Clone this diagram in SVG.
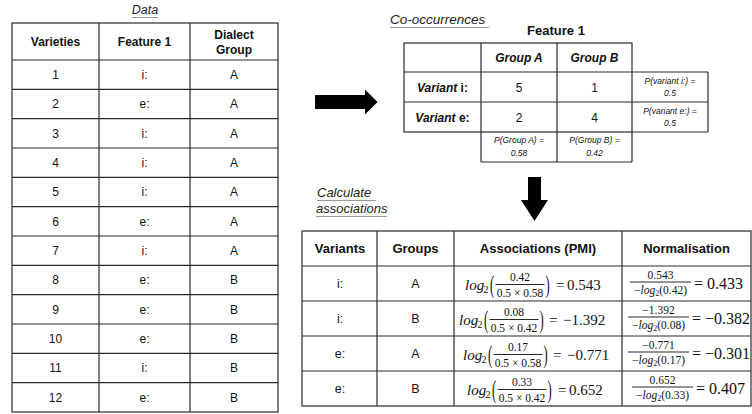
<svg xmlns="http://www.w3.org/2000/svg" width="752" height="414" viewBox="0 0 752 414">
<style>
text{font-family:"Liberation Sans",Arial,sans-serif;fill:#111}
.t{font-size:12px;text-anchor:middle}
.h{font-size:12px;font-weight:bold;text-anchor:middle}
.hb{font-size:13px;font-weight:bold;text-anchor:middle}
.b{font-size:12.5px;text-anchor:middle}
.ti{font-size:13px;font-style:italic;fill:#222}
.p{font-size:8.5px;font-style:italic;text-anchor:middle}
.ul{stroke:#999;stroke-width:1}
.g line,.g rect{stroke:#2a2a2a;stroke-width:1.2;fill:none}
.m{font-family:"Liberation Serif","Times New Roman",serif;font-size:15px}
.mi{font-family:"Liberation Serif","Times New Roman",serif;font-size:15px;font-style:italic}
.ms{font-family:"Liberation Serif","Times New Roman",serif;font-size:10px}
.pa{font-family:"Liberation Serif","Times New Roman",serif;font-size:14px}
.f{font-family:"Liberation Serif","Times New Roman",serif;font-size:11.5px;text-anchor:middle}
.fi{font-style:italic}
.fs{font-size:8px}
.n{font-family:"Liberation Serif","Times New Roman",serif;font-size:16px}
.bar{stroke:#111;stroke-width:0.8}
</style>

<g id="data-title">
<text class="ti" x="145" y="14" text-anchor="middle" style="font-size:12.5px">Data</text>
<line class="ul" x1="132" y1="17.5" x2="158" y2="17.5"/>
</g>

<g id="data-table" class="g">
<rect x="12" y="23" width="266" height="389"/>
<line x1="99" y1="23" x2="99" y2="412"/>
<line x1="190" y1="23" x2="190" y2="412"/>
<line x1="12" y1="60" x2="278" y2="60"/>
<line x1="12" y1="89.33" x2="278" y2="89.33"/>
<line x1="12" y1="118.67" x2="278" y2="118.67"/>
<line x1="12" y1="148" x2="278" y2="148"/>
<line x1="12" y1="177.33" x2="278" y2="177.33"/>
<line x1="12" y1="206.67" x2="278" y2="206.67"/>
<line x1="12" y1="236" x2="278" y2="236"/>
<line x1="12" y1="265.33" x2="278" y2="265.33"/>
<line x1="12" y1="294.67" x2="278" y2="294.67"/>
<line x1="12" y1="324" x2="278" y2="324"/>
<line x1="12" y1="353.33" x2="278" y2="353.33"/>
<line x1="12" y1="382.67" x2="278" y2="382.67"/>
<text class="h" x="55.5" y="46">Varieties</text>
<text class="h" x="144.5" y="46">Feature 1</text>
<text class="h" x="234" y="39">Dialect</text>
<text class="h" x="234" y="54">Group</text>
<g>
<text class="t" x="55.5" y="79">1</text><text class="t" x="144.5" y="79">i:</text><text class="t" x="234" y="79">A</text>
<text class="t" x="55.5" y="108.3">2</text><text class="t" x="144.5" y="108.3">e:</text><text class="t" x="234" y="108.3">A</text>
<text class="t" x="55.5" y="137.6">3</text><text class="t" x="144.5" y="137.6">i:</text><text class="t" x="234" y="137.6">A</text>
<text class="t" x="55.5" y="167">4</text><text class="t" x="144.5" y="167">i:</text><text class="t" x="234" y="167">A</text>
<text class="t" x="55.5" y="196.3">5</text><text class="t" x="144.5" y="196.3">i:</text><text class="t" x="234" y="196.3">A</text>
<text class="t" x="55.5" y="225.6">6</text><text class="t" x="144.5" y="225.6">e:</text><text class="t" x="234" y="225.6">A</text>
<text class="t" x="55.5" y="255">7</text><text class="t" x="144.5" y="255">i:</text><text class="t" x="234" y="255">A</text>
<text class="t" x="55.5" y="284.3">8</text><text class="t" x="144.5" y="284.3">e:</text><text class="t" x="234" y="284.3">B</text>
<text class="t" x="55.5" y="313.6">9</text><text class="t" x="144.5" y="313.6">e:</text><text class="t" x="234" y="313.6">B</text>
<text class="t" x="55.5" y="343">10</text><text class="t" x="144.5" y="343">e:</text><text class="t" x="234" y="343">B</text>
<text class="t" x="55.5" y="372.3">11</text><text class="t" x="144.5" y="372.3">i:</text><text class="t" x="234" y="372.3">B</text>
<text class="t" x="55.5" y="401.6">12</text><text class="t" x="144.5" y="401.6">e:</text><text class="t" x="234" y="401.6">B</text>
</g>
</g>

<g id="cooc-title">
<text class="ti" x="390" y="24" style="font-size:13.5px">Co-occurrences</text>
<line class="ul" x1="390" y1="27.5" x2="489" y2="27.5"/>
<text class="hb" x="556" y="35">Feature 1</text>
</g>

<g id="cooc-table" class="g">
<rect x="404" y="43" width="228" height="89"/>
<line x1="632" y1="72" x2="708" y2="72"/>
<line x1="708" y1="72" x2="708" y2="132"/>
<line x1="632" y1="132" x2="708" y2="132"/>
<line x1="404" y1="72" x2="632" y2="72"/>
<line x1="404" y1="102" x2="708" y2="102"/>
<line x1="481" y1="43" x2="481" y2="162"/>
<line x1="557" y1="43" x2="557" y2="162"/>
<line x1="632" y1="132" x2="632" y2="162"/>
<line x1="481" y1="162" x2="632" y2="162"/>
<text class="h" x="519" y="62" font-style="italic">Group A</text>
<text class="h" x="594.5" y="62" font-style="italic">Group B</text>
<text class="h" x="442.5" y="91.5"><tspan font-style="italic">Variant</tspan> i:</text>
<text class="h" x="442.5" y="121.5"><tspan font-style="italic">Variant</tspan> e:</text>
<text class="t" x="519" y="91.5">5</text>
<text class="t" x="594.5" y="91.5">1</text>
<text class="t" x="519" y="121.5">2</text>
<text class="t" x="594.5" y="121.5">4</text>
<text class="p" x="670" y="84">P(variant i:) =</text>
<text class="p" x="670" y="96">0.5</text>
<text class="p" x="670" y="114">P(variant e:) =</text>
<text class="p" x="670" y="126">0.5</text>
<text class="p" x="519" y="143">P(Group A) =</text>
<text class="p" x="519" y="156">0.58</text>
<text class="p" x="594.5" y="143">P(Group B) =</text>
<text class="p" x="594.5" y="156">0.42</text>
</g>

<g id="assoc-title">
<text class="ti" x="317" y="197">Calculate</text>
<line class="ul" x1="317" y1="200.5" x2="376" y2="200.5"/>
<text class="ti" x="316" y="213">associations</text>
<line class="ul" x1="316" y1="216.5" x2="387" y2="216.5"/>
</g>

<g id="assoc-table" class="g">
<rect x="302" y="231" width="449" height="175"/>
<line x1="377" y1="231" x2="377" y2="406"/>
<line x1="454" y1="231" x2="454" y2="406"/>
<line x1="622" y1="231" x2="622" y2="406"/>
<line x1="302" y1="266" x2="751" y2="266"/>
<line x1="302" y1="301" x2="751" y2="301"/>
<line x1="302" y1="336" x2="751" y2="336"/>
<line x1="302" y1="371" x2="751" y2="371"/>
<text class="hb" x="340" y="253">Variants</text>
<text class="hb" x="415.5" y="253">Groups</text>
<text class="hb" x="538" y="253">Associations (PMI)</text>
<text class="hb" x="686.5" y="253">Normalisation</text>
<text class="b" x="340" y="288">i:</text><text class="b" x="415.5" y="288">A</text>
<text class="b" x="340" y="323">i:</text><text class="b" x="415.5" y="323">B</text>
<text class="b" x="340" y="358">e:</text><text class="b" x="415.5" y="358">A</text>
<text class="b" x="340" y="393">e:</text><text class="b" x="415.5" y="393">B</text>

<!-- PMI row 1 -->
<g transform="translate(0,283.5)">
<text class="mi" x="465" y="6">log</text><text class="ms" x="483.5" y="9">2</text>
<text class="pa" transform="translate(490,9.5) scale(0.9,1.85)">(</text>
<text class="f" x="520" y="-3">0.42</text>
<line class="bar" x1="495.5" y1="1" x2="544.5" y2="1"/>
<text class="f" x="520" y="13">0.5 × 0.58</text>
<text class="pa" transform="translate(545.5,9.5) scale(0.9,1.85)">)</text>
<text class="m" x="556" y="6">=</text><text class="m" x="567" y="6">0.543</text>
</g>
<!-- PMI row 2 -->
<g transform="translate(0,318.5)">
<text class="mi" x="459" y="6">log</text><text class="ms" x="477.5" y="9">2</text>
<text class="pa" transform="translate(484,9.5) scale(0.9,1.85)">(</text>
<text class="f" x="514" y="-3">0.08</text>
<line class="bar" x1="489.5" y1="1" x2="538.5" y2="1"/>
<text class="f" x="514" y="13">0.5 × 0.42</text>
<text class="pa" transform="translate(539.5,9.5) scale(0.9,1.85)">)</text>
<text class="m" x="549" y="6">=</text><text class="m" x="563" y="6">−1.392</text>
</g>
<!-- PMI row 3 -->
<g transform="translate(0,353.5)">
<text class="mi" x="463" y="6">log</text><text class="ms" x="481.5" y="9">2</text>
<text class="pa" transform="translate(488,9.5) scale(0.9,1.85)">(</text>
<text class="f" x="518" y="-3">0.17</text>
<line class="bar" x1="493.5" y1="1" x2="542.5" y2="1"/>
<text class="f" x="518" y="13">0.5 × 0.58</text>
<text class="pa" transform="translate(543.5,9.5) scale(0.9,1.85)">)</text>
<text class="m" x="553" y="6">=</text><text class="m" x="567" y="6">−0.771</text>
</g>
<!-- PMI row 4 -->
<g transform="translate(0,388.5)">
<text class="mi" x="467" y="6">log</text><text class="ms" x="485.5" y="9">2</text>
<text class="pa" transform="translate(492,9.5) scale(0.9,1.85)">(</text>
<text class="f" x="522" y="-3">0.33</text>
<line class="bar" x1="497.5" y1="1" x2="546.5" y2="1"/>
<text class="f" x="522" y="13">0.5 × 0.42</text>
<text class="pa" transform="translate(547.5,9.5) scale(0.9,1.85)">)</text>
<text class="m" x="558" y="6">=</text><text class="m" x="569" y="6">0.652</text>
</g>

<!-- Normalisation rows -->
<g transform="translate(0,283.5)">
<text class="f" x="660.5" y="-5">0.543</text>
<line class="bar" x1="630" y1="-1.5" x2="691" y2="-1.5"/>
<text class="f" x="660.5" y="10">−<tspan class="fi">log</tspan><tspan class="fs" dy="2.5">2</tspan><tspan dy="-2.5">(0.42)</tspan></text>
<text class="n" x="694" y="5">=</text><text class="n" x="707" y="5">0.433</text>
</g>
<g transform="translate(0,318.5)">
<text class="f" x="658.5" y="-5">−1.392</text>
<line class="bar" x1="628" y1="-1.5" x2="689" y2="-1.5"/>
<text class="f" x="658.5" y="10">−<tspan class="fi">log</tspan><tspan class="fs" dy="2.5">2</tspan><tspan dy="-2.5">(0.08)</tspan></text>
<text class="n" x="692" y="5">=</text><text class="n" x="705" y="5">−0.382</text>
</g>
<g transform="translate(0,353.5)">
<text class="f" x="658.5" y="-5">−0.771</text>
<line class="bar" x1="628" y1="-1.5" x2="689" y2="-1.5"/>
<text class="f" x="658.5" y="10">−<tspan class="fi">log</tspan><tspan class="fs" dy="2.5">2</tspan><tspan dy="-2.5">(0.17)</tspan></text>
<text class="n" x="692" y="5">=</text><text class="n" x="705" y="5">−0.301</text>
</g>
<g transform="translate(0,388.5)">
<text class="f" x="662.5" y="-5">0.652</text>
<line class="bar" x1="632" y1="-1.5" x2="693" y2="-1.5"/>
<text class="f" x="662.5" y="10">−<tspan class="fi">log</tspan><tspan class="fs" dy="2.5">2</tspan><tspan dy="-2.5">(0.33)</tspan></text>
<text class="n" x="696" y="5">=</text><text class="n" x="709" y="5">0.407</text>
</g>
</g>

<g id="connectors">
<polygon id="arrow-right" points="315,95 365,95 365,89.5 377.5,102 365,114.5 365,109 315,109" fill="#000"/>
<polygon id="arrow-down" points="528,177 541,177 541,200 548,200 534.5,221 521,200 528,200" fill="#000"/>
</g>
</svg>
